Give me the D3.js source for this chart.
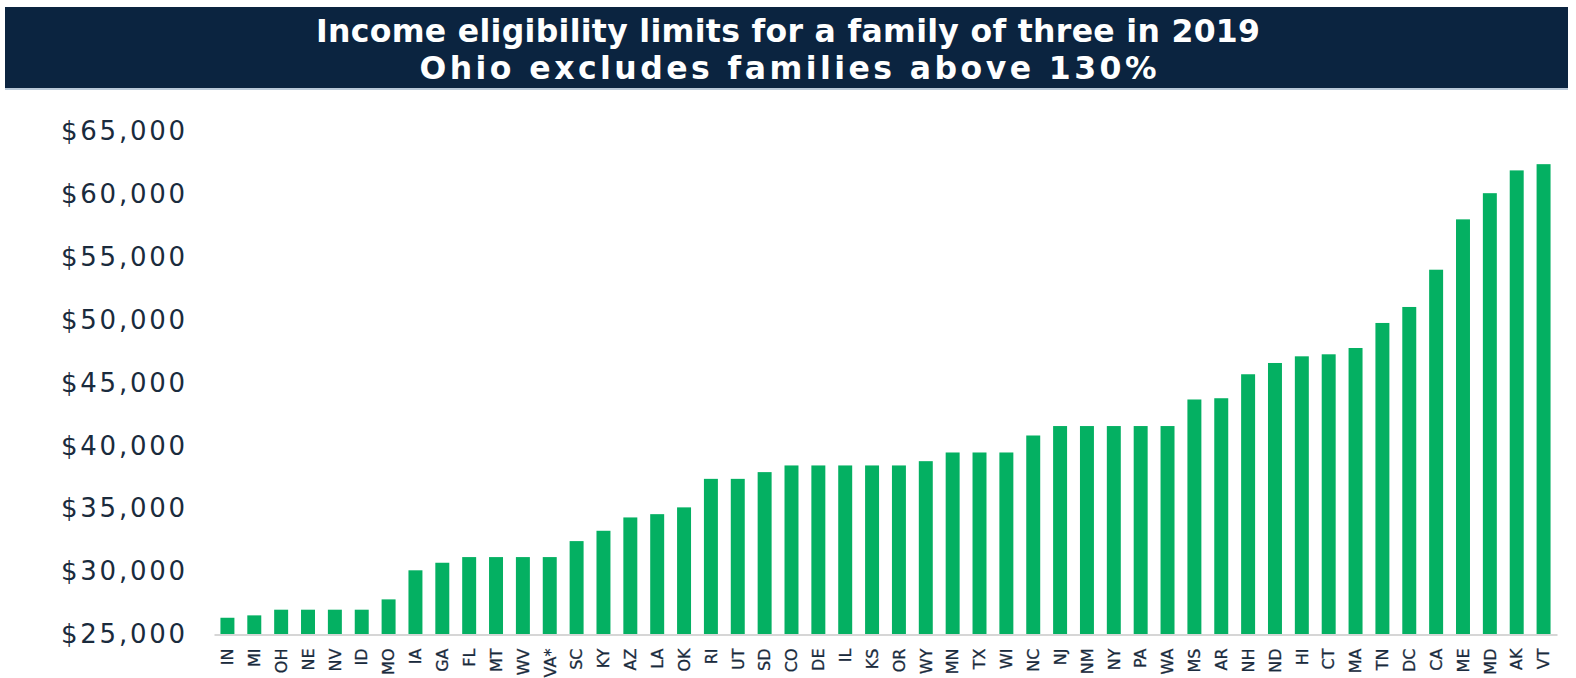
<!DOCTYPE html>
<html>
<head>
<meta charset="utf-8">
<script src="https://cdn.jsdelivr.net/npm/d3@7"></script>
<style>
  html, body { margin: 0; padding: 0; background: #ffffff; }
  svg { display: block; }
</style>
</head>
<body>
<svg id="chart" width="1576" height="678"></svg>
<script>
const titleLines = [
  "Income eligibility limits for a family of three in 2019",
  "Ohio excludes families above 130%"
];
const states = ["IN","MI","OH","NE","NV","ID","MO","IA","GA","FL","MT","WV","VA*","SC","KY","AZ","LA","OK","RI","UT","SD","CO","DE","IL","KS","OR","WY","MN","TX","WI","NC","NJ","NM","NY","PA","WA","MS","AR","NH","ND","HI","CT","MA","TN","DC","CA","ME","MD","AK","VT"];
const limits = [26330,26520,26970,26970,26970,26970,27790,30100,30700,31150,31150,31150,31150,32420,33240,34300,34560,35100,37365,37365,37900,38430,38430,38430,38430,38430,38770,39460,39460,39460,40810,41560,41560,41560,41560,41560,43670,43770,45675,46570,47100,47260,47760,49750,51020,53980,57980,60060,61870,62365];
const yTicks = [25000,30000,35000,40000,45000,50000,55000,60000,65000];

const svg = d3.select("#chart");

// title band
svg.append("rect").attr("x", 5).attr("y", 7).attr("width", 1563).attr("height", 81).attr("fill", "#0b2440");
svg.append("rect").attr("x", 5).attr("y", 88).attr("width", 1563).attr("height", 2).attr("fill", "#b9c9d8");
const titleWidths = [944, 737];
svg.selectAll("text.title").data(titleLines).enter().append("text")
  .attr("class", "title")
  .attr("x", 788)
  .attr("y", (d, i) => 42 + i * 37)
  .attr("text-anchor", "middle")
  .attr("fill", "#ffffff")
  .attr("textLength", (d, i) => titleWidths[i])
  .attr("lengthAdjust", "spacing")
  .style("font-family", "'DejaVu Sans', sans-serif")
  .style("font-weight", "bold")
  .style("font-size", "31.5px")
  .text(d => d);

const x = d3.scaleBand().domain(states).range([214, 1557]).paddingInner(0.48).paddingOuter(0.24);
const y = d3.scaleLinear().domain([25000, 65000]).range([634.5, 131]);

// bars
svg.append("g").selectAll("rect").data(states).enter().append("rect")
  .attr("x", d => x(d))
  .attr("width", x.bandwidth())
  .attr("y", (d, i) => y(limits[i]))
  .attr("height", (d, i) => y(25000) - y(limits[i]))
  .attr("fill", "#04b062");

// y axis
const yAxis = d3.axisLeft(y).tickValues(yTicks).tickSize(0).tickPadding(0)
  .tickFormat(d => "$" + d3.format(",")(d));
const gy = svg.append("g").attr("transform", "translate(185,0)").call(yAxis);
gy.select(".domain").remove();
gy.selectAll("text")
  .attr("fill", "#1a2b3d")
  .attr("textLength", 124)
  .attr("lengthAdjust", "spacing")
  .style("font-family", "'DejaVu Sans', sans-serif")
  .style("font-size", "26px");

// x axis
const xAxis = d3.axisBottom(x).tickSize(0).tickPadding(0);
const gx = svg.append("g").attr("transform", "translate(0,634.5)").call(xAxis);
gx.select(".domain").attr("stroke", "#d6d6d6").attr("stroke-width", 2);
gx.selectAll("text")
  .attr("transform", "rotate(-90)")
  .attr("x", -14)
  .attr("y", 0)
  .attr("dy", "0.36em")
  .attr("text-anchor", "end")
  .attr("fill", "#1a2b3d")
  .attr("stroke", "#1a2b3d")
  .attr("stroke-width", 0.3)
  .style("font-family", "'DejaVu Sans', sans-serif")
  .style("font-size", "16px");
</script>
</body>
</html>
